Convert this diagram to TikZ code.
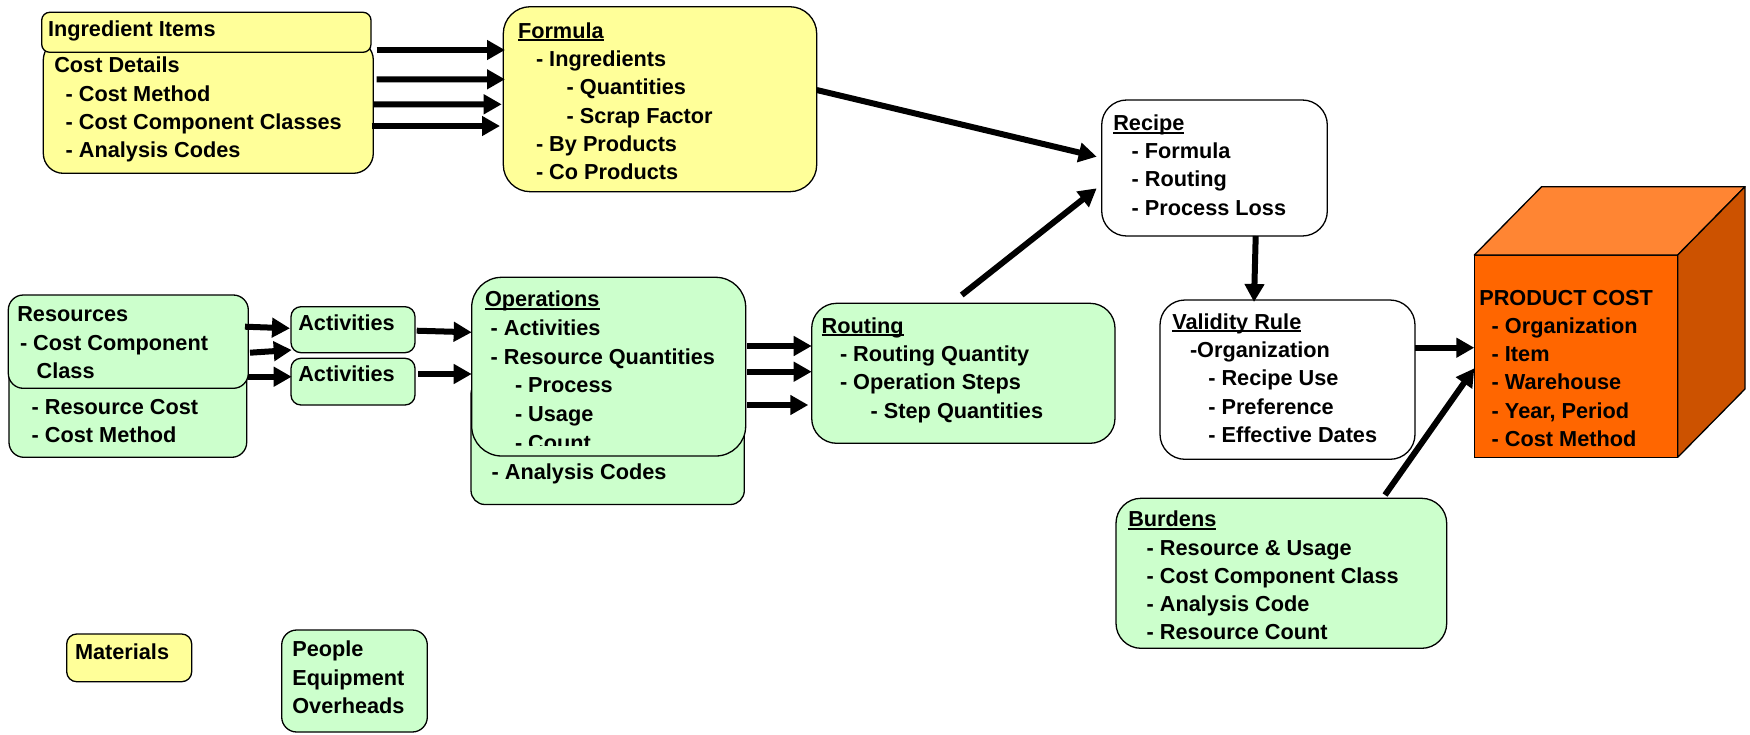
\documentclass[tikz,border=0pt]{standalone}
\usepackage{fontspec}
\setmainfont{Liberation Sans}
\usetikzlibrary{arrows.meta}
\definecolor{yel}{HTML}{FFFF99}
\definecolor{grn}{HTML}{CCFFCC}
\definecolor{org}{HTML}{FF6600}
\definecolor{orgtop}{HTML}{FF8533}
\definecolor{orgside}{HTML}{CC5200}
\newcommand\myul[1]{\setbox0=\hbox{#1}\rlap{\rule[-3pt]{\wd0}{2pt}}\box0}
\newcommand\myline[2]{\hbox{\kern#1pt\relax #2}}
\newcommand\myblock[2][28.3]{\vtop{\baselineskip=#1pt\lineskiplimit=-100pt #2}}
\tikzset{
  every node/.style={font=\bfseries\fontsize{21.7}{28.3}\selectfont},
  box/.style={draw, line width=1.3pt, rounded corners=#1, outer sep=0pt, inner sep=0pt, anchor=north west},
  box/.default=20pt,
  txt/.style={anchor=base west, inner sep=0pt, outer sep=0pt},
  arr/.style={line width=6pt, -{Triangle[length=18pt,width=19pt]}}
}
\begin{document}
\begin{tikzpicture}[x=1pt,y=-1pt]
\useasboundingbox (0,0) rectangle (1750,734);
% yellow boxes
\node[box=20pt, fill=yel, minimum width=330pt, minimum height=133.3pt] (costd) at (43.3,40) {};
\node[box=8pt, fill=yel, minimum width=329.3pt, minimum height=40pt] (ingr) at (41.7,12.3) {};
\node[box=27pt, fill=yel, minimum width=313.4pt, minimum height=185pt] (formula) at (503.3,6.7) {};
\node[box=10pt, fill=yel, minimum width=125pt, minimum height=47.7pt] (materials) at (66.7,634) {};
% white boxes
\node[box=25pt, fill=white, minimum width=225.6pt, minimum height=136pt] (recipe) at (1101.7,100) {};
\node[box=25pt, fill=white, minimum width=255pt, minimum height=159.3pt] (validity) at (1160,300) {};
% green boxes
\node[box=25pt, fill=grn, minimum width=303.3pt, minimum height=140pt] (routing) at (811.7,303.3) {};
\node[box=14pt, fill=grn, minimum width=273.3pt, minimum height=124.5pt] (ops2) at (471,380) {};
\node[box=30pt, fill=grn, minimum width=274pt, minimum height=178.7pt] (ops) at (471.7,277.3) {};
\node[box=15pt, fill=grn, minimum width=237.7pt, minimum height=117.3pt] (res2) at (9,340) {};
\node[box=15pt, fill=grn, minimum width=240pt, minimum height=93.3pt] (res) at (8.3,295) {};
\node[box=10pt, fill=grn, minimum width=124pt, minimum height=46pt] (act1) at (291,306.7) {};
\node[box=10pt, fill=grn, minimum width=124pt, minimum height=46.7pt] (act2) at (291,358.3) {};
\node[box=25pt, fill=grn, minimum width=330.7pt, minimum height=150pt] (burdens) at (1116,498.3) {};
\node[box=15pt, fill=grn, minimum width=145.6pt, minimum height=102pt] (people) at (281.7,630) {};
% product cost cube
\node[box=0pt, fill=org, minimum width=203.4pt, minimum height=202.3pt] (pc) at (1474.3,255) {};
\filldraw[fill=orgtop, line width=1.3pt, line join=round] (pc.north west) -- ++(67.3,-68.3) -- ++(203.4,0) -- (pc.north east) -- cycle;
\filldraw[fill=orgside, line width=1.3pt, line join=round] (pc.north east) -- ++(67.3,-68.3) -- ++(0,202.3) -- (pc.south east) -- cycle;
% texts
\node[txt] (t-ingr) at (48,36.7) {Ingredient Items};
\node[txt] (t-costd) at (54.3,72.7) {\myblock{\myline{0}{Cost Details}\myline{11.4}{- Cost Method}\myline{11.4}{- Cost Component Classes}\myline{11.4}{- Analysis Codes}}};
\node[txt] (t-formula) at (518,38.3) {\myblock{\myline{0}{\myul{Formula}}\myline{18}{- Ingredients}\myline{48.7}{- Quantities}\myline{48.7}{- Scrap Factor}\myline{18}{- By Products}\myline{18}{- Co Products}}};
\node[txt] (t-recipe) at (1113.3,130.7) {\myblock[28.1]{\myline{0}{\myul{Recipe}}\myline{18.4}{- Formula}\myline{18.4}{- Routing}\myline{18.4}{- Process Loss}}};
\node[txt] (t-validity) at (1172.3,329.3) {\myblock{\myline{0}{\myul{Validity Rule}}\myline{17.7}{-Organization}\myline{36}{- Recipe Use}\myline{36}{- Preference}\myline{36}{- Effective Dates}}};
\node[txt] (t-pc) at (1479.3,305) {\myblock{\myline{0}{PRODUCT COST}\myline{12.4}{- Organization}\myline{12.4}{- Item}\myline{12.4}{- Warehouse}\myline{12.4}{- Year, Period}\myline{12.4}{- Cost Method}}};
\node[txt] (t-burdens) at (1128.3,526.7) {\myblock{\myline{0}{\myul{Burdens}}\myline{18.4}{- Resource \& Usage}\myline{18.4}{- Cost Component Class}\myline{18.4}{- Analysis Code}\myline{18.4}{- Resource Count}}};
\node[txt] (t-res) at (17.3,321.7) {\myblock{\myline{0}{Resources}\myline{2.7}{- Cost Component}\myline{19.4}{Class}}};
\node[txt] (t-res2) at (31.7,414) {\myblock{\myline{0}{- Resource Cost}\myline{0}{- Cost Method}}};
\node[txt] (t-act1) at (298.3,330) {Activities};
\node[txt] (t-act2) at (298.3,381.7) {Activities};
\begin{scope}
\clip (ops.north west) rectangle ([yshift=11pt]ops.south east);
\node[txt] (t-ops) at (485,306.7) {\myblock[28.66]{\myline{0}{\myul{Operations}}\myline{5.7}{- Activities}\myline{5.7}{- Resource Quantities}\myline{30}{- Process}\myline{30}{- Usage}\myline{30}{- Count}}};
\end{scope}
\node[txt] (t-ops2) at (491.7,479) {- Analysis Codes};
\node[txt] (t-routing) at (821.7,333.3) {\myblock{\myline{0}{\myul{Routing}}\myline{18.3}{- Routing Quantity}\myline{18.3}{- Operation Steps}\myline{49}{- Step Quantities}}};
\node[txt] (t-materials) at (75,659) {Materials};
\node[txt] (t-people) at (292.3,656.7) {\myblock{\myline{0}{People}\myline{0}{Equipment}\myline{0}{Overheads}}};
% connectors
\draw[arr] ([xshift=3.4pt,yshift=56.65pt]costd.east) -- ([xshift=1.7pt,yshift=49.2pt]formula.west);
\draw[arr] ([xshift=3.4pt,yshift=27.35pt]costd.east) -- ([xshift=1.7pt,yshift=19.9pt]formula.west);
\draw[arr] ([yshift=2.35pt]costd.east) -- ([xshift=-1.6pt,yshift=-5.1pt]formula.west);
\draw[arr] ([xshift=-1.6pt,yshift=-19.35pt]costd.east) -- ([xshift=-3.3pt,yshift=-26.8pt]formula.west);
\draw[arr] ([yshift=9.2pt]formula.east) -- ([xshift=-5pt,yshift=11.3pt]recipe.west);
\draw[arr] ([xshift=-1.6pt,yshift=8.3pt]routing.north) -- ([xshift=-5pt,yshift=-20.3pt]recipe.west);
\draw[arr] ([xshift=41.2pt]recipe.south) -- ([xshift=-33.5pt,yshift=-2pt]validity.north);
\draw[arr] ([yshift=31.95pt]validity.east) -- ([yshift=8.45pt]pc.west);
\draw[arr] ([xshift=103.65pt,yshift=3.3pt]burdens.north) -- ([yshift=-12.15pt]pc.west);
\draw[arr] ([xshift=-3.3pt,yshift=14.95pt]res.east) -- ([xshift=-1pt,yshift=1.4pt]act1.west);
\draw[arr] ([xshift=1.7pt,yshift=-11.05pt]res.east) -- ([xshift=0.7pt,yshift=-20.3pt]act1.west);
\draw[arr] ([yshift=-35.05pt]res.east) -- ([xshift=0.7pt,yshift=4.95pt]act2.west);
\draw[arr] ([xshift=1.7pt,yshift=-1pt]act1.east) -- ([yshift=34.35pt]ops.west);
\draw[arr] ([xshift=3.3pt,yshift=7.65pt]act2.east) -- ([yshift=-7.35pt]ops.west);
\draw[arr] ([xshift=1.6pt,yshift=20.65pt]ops.east) -- ([yshift=27.3pt]routing.west);
\draw[arr] ([xshift=1.6pt,yshift=-5.05pt]ops.east) -- ([yshift=1.6pt]routing.west);
\draw[arr] ([xshift=1.6pt,yshift=-38.35pt]ops.east) -- ([xshift=-3.4pt,yshift=-31.7pt]routing.west);
\end{tikzpicture}
\end{document}
